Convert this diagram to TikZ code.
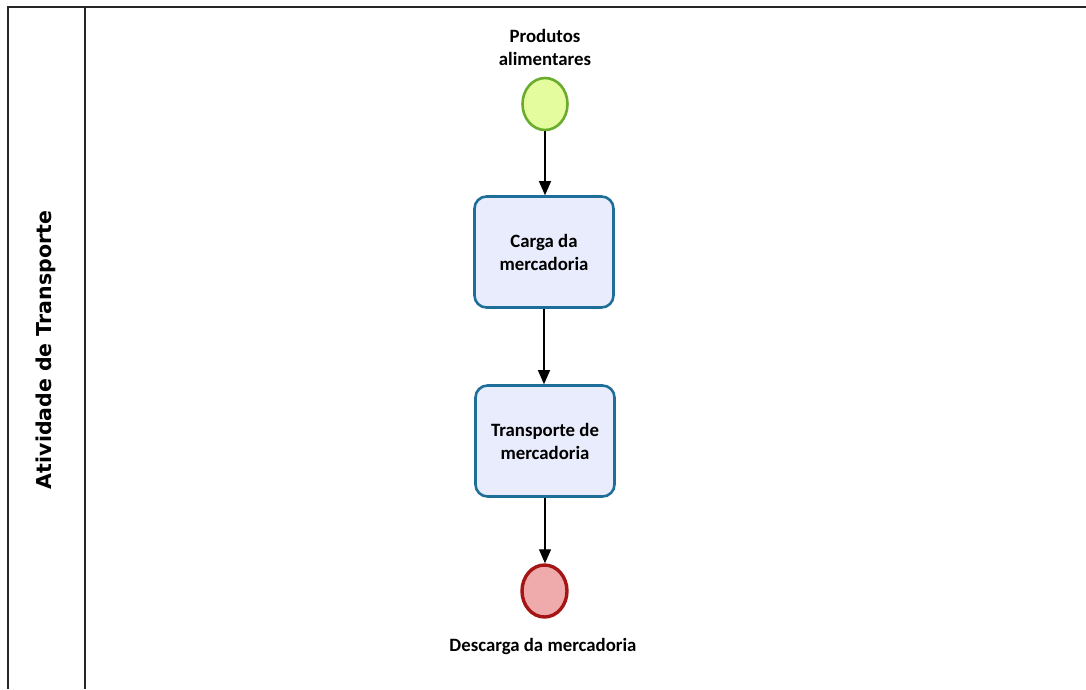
\documentclass[tikz,border=0pt]{standalone}
\usepackage{fontspec}
\setmainfont{Carlito}
\newfontfamily\lanefont{DejaVu Sans}
\usetikzlibrary{arrows.meta,shapes.geometric}
\definecolor{startfill}{HTML}{E4FB9E}
\definecolor{startdraw}{HTML}{6AAD2C}
\definecolor{endfill}{HTML}{EFABAB}
\definecolor{enddraw}{HTML}{A51515}
\definecolor{taskfill}{HTML}{E9ECFC}
\definecolor{taskdraw}{HTML}{1E6E9A}
\tikzset{
  event/.style={ellipse, minimum width=45pt, minimum height=52pt, inner sep=0pt, line width=2.6pt},
  task/.style={rectangle, rounded corners=12pt, draw=taskdraw, fill=taskfill, line width=2.6pt,
     minimum width=139pt, minimum height=111pt, align=center, font=\fontsize{18.8}{23}\selectfont\bfseries},
  lbl/.style={align=center, font=\fontsize{18.8}{23}\selectfont\bfseries},
  flow/.style={-{Triangle[length=14pt,width=12pt]}, line width=1.2pt},
  pool/.style={line width=2pt, draw=black!85}
}
\begin{document}
\begin{tikzpicture}[x=1pt,y=-1pt]
\useasboundingbox (0,0) rectangle (1086,689);
\coordinate (tl) at (7.5,7);
\coordinate (tr) at (1086,7);
\coordinate (bl) at (7.5,689);
\coordinate (dt) at (85,7);
\coordinate (db) at (85,689);
\draw[pool] (bl) -- (tl) -- (tr);
\draw[pool] (dt) -- (db);
\node[rotate=90, font=\lanefont\fontsize{20.5}{24}\selectfont\bfseries] (lane) at (46,350) {Atividade de Transporte};

\node[event, draw=startdraw, fill=startfill] (start) at (545,104) {};
\node[lbl] (startlbl) at (545,47) {Produtos\\alimentares};
\node[task] (t1) at (544,252) {Carga da\\mercadoria};
\node[task] (t2) at (545,441) {Transporte de\\mercadoria};
\node[event, draw=enddraw, fill=endfill, line width=3.4pt] (end) at (544.5,591) {};
\node[lbl] (endlbl) at (543,646) {Descarga da mercadoria};

\draw[flow] (start) -- (start |- t1.north);
\draw[flow] (t1) -- (t1 |- t2.north);
\draw[flow] (t2) -- (t2 |- end.north);
\end{tikzpicture}
\end{document}
